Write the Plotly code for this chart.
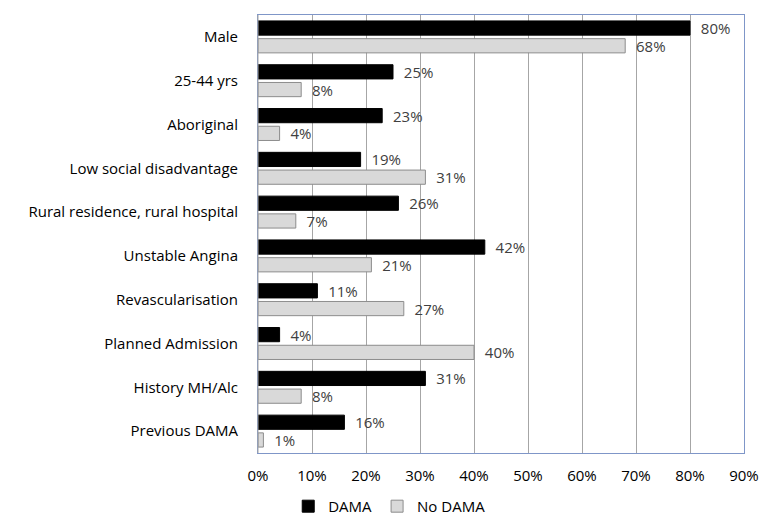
import plotly.graph_objects as go

categories = ["Male", "25-44 yrs", "Aboriginal", "Low social disadvantage",
              "Rural residence, rural hospital", "Unstable Angina",
              "Revascularisation", "Planned Admission", "History MH/Alc",
              "Previous DAMA"]
dama = [80, 25, 23, 19, 26, 42, 11, 4, 31, 16]
no_dama = [68, 8, 4, 31, 7, 21, 27, 40, 8, 1]
x_ticks = [0, 10, 20, 30, 40, 50, 60, 70, 80, 90]
x_tick_labels = [f"{v}%" for v in x_ticks]

FONT = "'Open Sans', Lato, sans-serif"
FS = 15

fig = go.Figure()
fig.add_trace(go.Bar(
    y=categories, x=dama, name="DAMA", orientation="h",
    marker=dict(color="#000000", line=dict(color="#000000", width=1)),
    text=[f"  {v}%" for v in dama], textposition="outside", constraintext="none",
    textfont=dict(color="#404040", size=FS, family=FONT), cliponaxis=False,
))
fig.add_trace(go.Bar(
    y=categories, x=no_dama, name="No DAMA", orientation="h",
    marker=dict(color="#D9D9D9", line=dict(color="#8C8C8C", width=1)),
    text=[f"  {v}%" for v in no_dama], textposition="outside", constraintext="none",
    textfont=dict(color="#404040", size=FS, family=FONT), cliponaxis=False,
))

fig.update_layout(
    width=771, height=516,
    margin=dict(l=258, r=27, t=15, b=63, autoexpand=False),
    plot_bgcolor="white", paper_bgcolor="white",
    barmode="group", bargap=0.19, bargroupgap=0.2,
    font=dict(family=FONT, size=FS, color="#000000"),
    showlegend=True,
    legend=dict(orientation="h", x=0.27, xanchor="center", y=-0.122, yanchor="middle",
                font=dict(size=FS, color="#000000"), traceorder="normal",
                itemwidth=30, bgcolor="rgba(0,0,0,0)"),
    xaxis=dict(range=[0, 90], tickvals=x_ticks, ticktext=x_tick_labels,
               showgrid=True, gridcolor="#A6A6A6", gridwidth=1,
               showline=True, linecolor="#7F96C8", linewidth=1, mirror=True,
               ticks="outside", ticklen=9, tickcolor="rgba(0,0,0,0)",
               tickfont=dict(size=FS, color="#000000"), zeroline=False),
    yaxis=dict(autorange="reversed", showline=True, linecolor="#7F96C8",
               linewidth=1, mirror=True, ticks="outside", ticklen=16,
               tickcolor="rgba(0,0,0,0)", tickfont=dict(size=FS, color="#000000")),
)
fig.add_shape(type="line", xref="paper", yref="paper", x0=0, x1=0, y0=0, y1=1,
              line=dict(color="#A6A6A6", width=1))

fig.write_html("out.html", config={"displayModeBar": False},
               post_script="document.body.style.margin='0';")
